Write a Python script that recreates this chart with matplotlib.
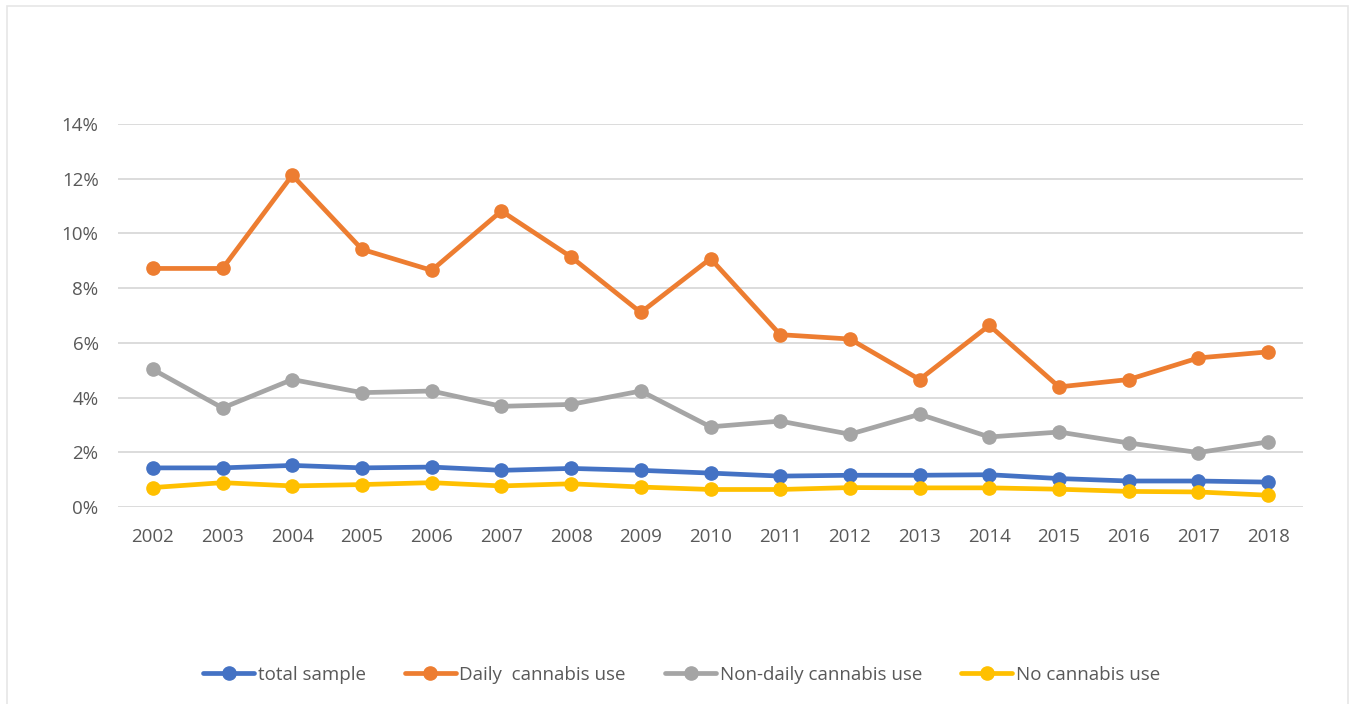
import matplotlib
matplotlib.use('Agg')
import matplotlib.pyplot as plt
from matplotlib.patches import Rectangle
from matplotlib.ticker import FuncFormatter

plt.rcParams['font.family'] = ['Open Sans', 'DejaVu Sans']

years = [str(y) for y in range(2002, 2019)]

total_sample = [1.43, 1.43, 1.52, 1.43, 1.46, 1.34, 1.41, 1.34, 1.24, 1.13, 1.16,
                1.16, 1.18, 1.04, 0.95, 0.95, 0.91]
daily_use = [8.72, 8.72, 12.13, 9.42, 8.65, 10.82, 9.14, 7.11, 9.08, 6.30, 6.14,
             4.66, 6.64, 4.39, 4.66, 5.45, 5.67]
non_daily_use = [5.03, 3.62, 4.66, 4.18, 4.24, 3.68, 3.75, 4.24, 2.93, 3.14, 2.66,
                 3.39, 2.56, 2.74, 2.34, 1.99, 2.38]
no_use = [0.71, 0.89, 0.77, 0.82, 0.89, 0.77, 0.85, 0.73, 0.64, 0.64, 0.71,
          0.70, 0.70, 0.65, 0.57, 0.55, 0.43]

series = [
    ("total sample", total_sample, "#4472C4"),
    ("Daily  cannabis use", daily_use, "#ED7D31"),
    ("Non-daily cannabis use", non_daily_use, "#A5A5A5"),
    ("No cannabis use", no_use, "#FFC000"),
]

fig = plt.figure(figsize=(13.55, 7.04), dpi=100)
ax = fig.add_axes([118 / 1355, 1 - 507 / 704, (1303 - 118) / 1355, (507 - 124) / 704])

x = list(range(len(years)))
for label, vals, color in series:
    ax.plot(x, [v / 100 for v in vals], '-o', color=color, lw=3.4, ms=9.5,
            label=label, solid_capstyle='round', zorder=3)

ax.set_xlim(-0.5, len(years) - 0.5)
ax.set_ylim(0, 0.14)
ax.set_yticks([i / 100 for i in range(0, 15, 2)])
ax.yaxis.set_major_formatter(FuncFormatter(lambda v, p: f"{round(v * 100)}%"))
ax.set_xticks(x)
ax.set_xticklabels(years)

ax.grid(axis='y', color='#D9D9D9', lw=1.3)
ax.set_axisbelow(True)
for s in ax.spines.values():
    s.set_visible(False)
ax.tick_params(length=0, labelsize=13.5, colors='#595959')
ax.tick_params(axis='x', pad=15)
ax.tick_params(axis='y', pad=14)

fig.legend(loc='center', bbox_to_anchor=(0.503, 1 - 675 / 704), ncol=4,
           frameon=False, fontsize=13.5, labelcolor='#595959',
           handlelength=2.7, handletextpad=0.2, columnspacing=2.1)

# light outer border
fig.patches.append(Rectangle((7 / 1355, -0.05), (1348 - 7) / 1355, 1.05 - 6 / 704,
                             transform=fig.transFigure, fill=False,
                             edgecolor='#E6E6E6', lw=1.2))

fig.savefig('out.png', dpi=100, facecolor='white')
